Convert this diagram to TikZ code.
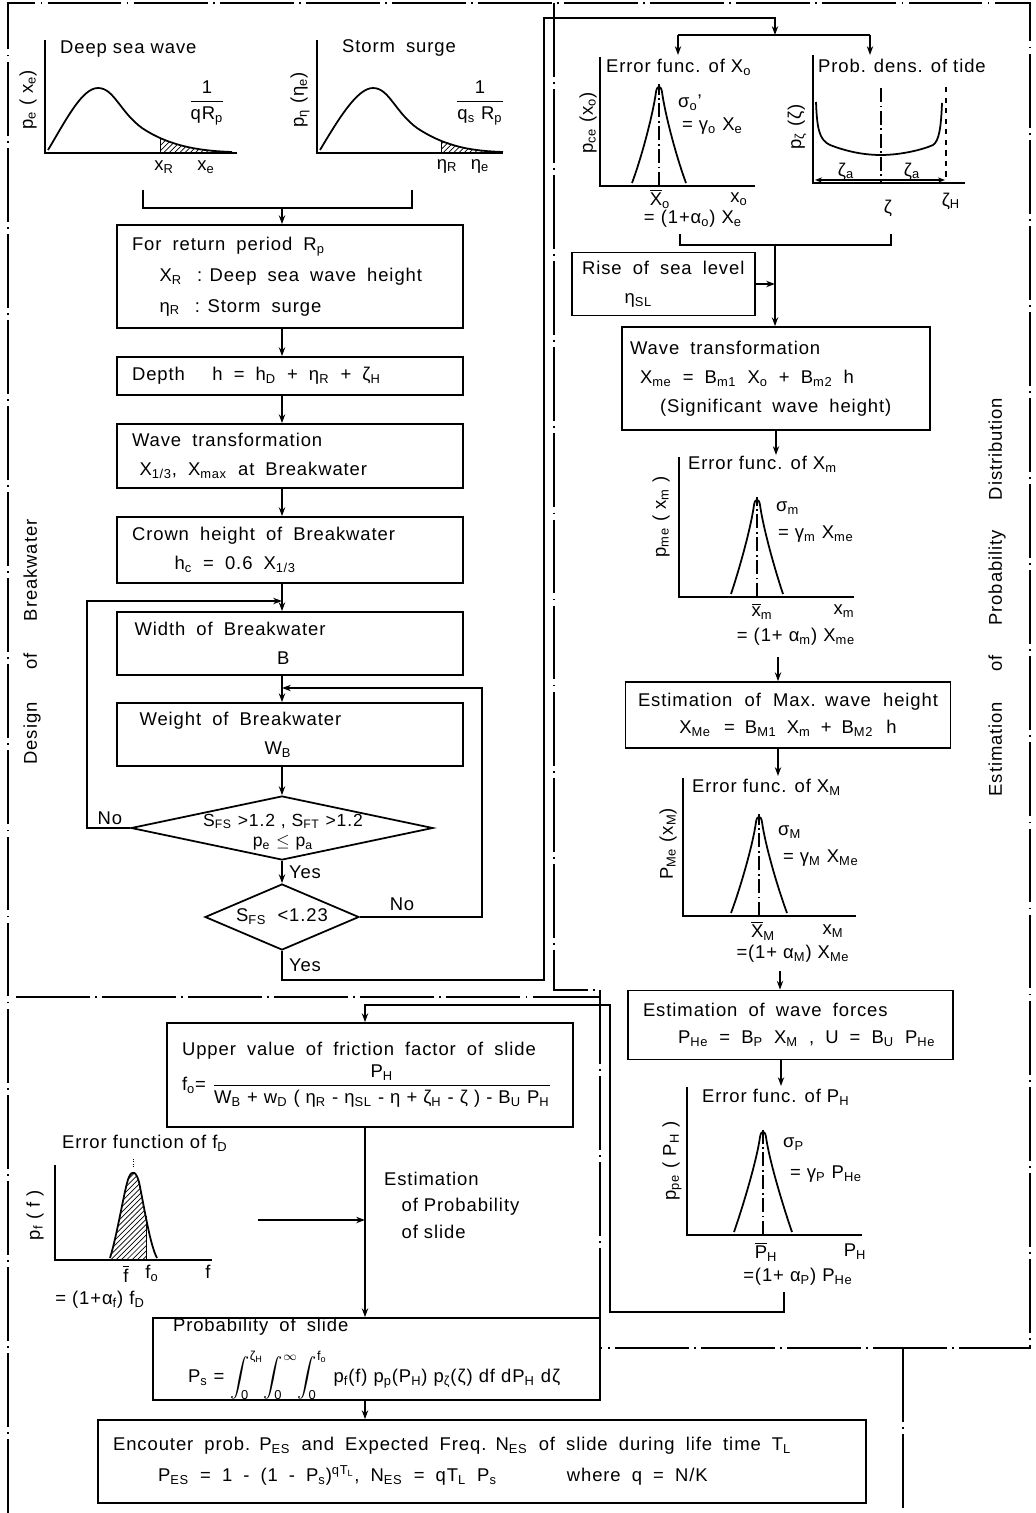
\documentclass[tikz,border=0pt]{standalone}
\usepackage{amsmath}
\usepackage{fontspec}
\setmainfont{Liberation Sans}[LetterSpace=5]
\usetikzlibrary{arrows.meta,positioning,shapes.geometric,patterns}

\newcommand{\sbx}[1]{\textsubscript{#1}}
\newcommand{\spx}[1]{\textsuperscript{#1}}
\newcommand{\ovl}[1]{$\overline{\text{#1}}$}
\newcommand{\widesp}{\spaceskip=0.6em plus 0.3em minus 0.2em\relax}
\newcommand{\normsp}{\spaceskip=0pt\relax}

\begin{document}
\begin{tikzpicture}[
  x=0.02cm, y=-0.02cm,
  font=\fontsize{10.5}{12.5}\selectfont,
  block/.style={rectangle, draw, line width=1pt, inner xsep=0.3cm,
                inner ysep=2pt, align=left, execute at begin node=\widesp},
  decision/.style={diamond, draw, line width=1pt, inner sep=0pt},
  frame/.style={line width=1pt, dash pattern=on 42pt off 3pt on 1pt off 3pt},
  arr/.style={-{Stealth[length=5pt,width=3.6pt]}, line width=0.9pt},
  tip/.style={-{Stealth[length=4pt,width=3pt]}, line width=0.6pt},
  flow/.style={line width=0.9pt},
  axis/.style={line width=1pt},
  curve/.style={line width=1pt},
  cline/.style={line width=0.6pt, dash pattern=on 8pt off 2pt on 1pt off 2pt},
  lab/.style={inner sep=1pt},
  ylab/.style={inner sep=1pt, rotate=90}
]
\useasboundingbox (0,0) rectangle (1035,1513);

% panel frames
\draw[frame] (8,1513) -- (8,3) -- (1030,3) -- (1030,1348) -- (600,1348);
\draw[frame] (554,3) -- (554,990) -- (600,990) -- (600,1348);
\draw[frame] (16,997) -- (600,997);
\draw[frame] (903,1348) -- (903,1513);

\node[ylab] (design) at (32,642) {Design\hspace{0.65cm}of\hspace{0.65cm}Breakwater};
\node[ylab] (estim)  at (997,597) {Estimation\hspace{0.6cm}of\hspace{0.6cm}Probability\hspace{0.6cm}Distribution};

% ---- design of breakwater ----
\draw[axis] (45,40) -- (45,153) -- (237,153);
\fill[pattern=north east lines] (160,139) .. controls (185,148) and (205,151) .. (230,152) -- (230,153) -- (160,153) -- cycle;
\draw[curve] (48,150) .. controls (66,120) and (82,88) .. (98,88) .. controls (114,88) and (120,112) .. (142,128) .. controls (172,148) and (205,151) .. (232,152);
\draw (160,139) -- (160,153);
\node[lab, anchor=west] (dswt)  at (58,49)  {Deep sea wave};
\node[ylab]             (dswy)  at (28,100) {p\sbx{e} ( x\sbx{e})};
\node[lab]              (dswxr) at (164,167) {x\sbx{R}};
\node[lab]              (dswxe) at (206,167) {x\sbx{e}};
\node[lab]              (dswfr) at (207,103) {$\dfrac{\text{1}}{\text{qR\sbx{p}}}$};

\draw[axis] (317,40) -- (317,153) -- (503,153);
\fill[pattern=north east lines] (441,140) .. controls (462,148) and (480,151) .. (500,152) -- (500,153) -- (441,153) -- cycle;
\draw[curve] (320,150) .. controls (338,120) and (357,88) .. (373,88) .. controls (389,88) and (395,112) .. (417,128) .. controls (447,148) and (475,151) .. (503,152);
\draw (441,140) -- (441,153);
\node[lab, anchor=west] (ssgt)  at (340,48)  {Storm \hspace{0.1cm}surge};
\node[ylab]             (ssgy)  at (300,100) {p\sbx{η} (η\sbx{e})};
\node[lab]              (ssgxr) at (447,166) {η\sbx{R}};
\node[lab]              (ssgxe) at (480,166) {η\sbx{e}};
\node[lab]              (ssgfr) at (480,103) {$\dfrac{\text{1}}{\text{q\sbx{s} R\sbx{p}}}$};

\draw[flow] (143,190) -- (143,208) -- (412,208) -- (412,190);
\coordinate (col) at (282,208);

\node[block, text width=6.32cm, minimum height=2.06cm] (ret) at (290,276.5)
  {For return period R\sbx{p}\\[5pt]
   \hspace*{0.55cm}X\sbx{R}\hspace{0.3cm}:\hspace{0.15cm}Deep sea wave height\\[5pt]
   \hspace*{0.55cm}η\sbx{R}\hspace{0.3cm}:\hspace{0.15cm}Storm surge};
\node[block, text width=6.32cm, minimum height=0.76cm] (depth) at (290,376)
  {Depth\hspace{0.55cm}h = h\sbx{D} + η\sbx{R} + ζ\sbx{H}};
\node[block, text width=6.32cm, minimum height=1.28cm] (wtl) at (290,456)
  {Wave transformation\\[4pt]
   \hspace*{0.15cm}X\sbx{1/3}, X\sbx{max} at Breakwater};
\node[block, text width=6.32cm, minimum height=1.32cm] (crown) at (290,550)
  {Crown height of Breakwater\\[4pt]
   \hspace*{0.85cm}h\sbx{c} = 0.6 X\sbx{1/3}};
\node[block, text width=6.32cm, minimum height=1.26cm] (width) at (290,643.5)
  {\hspace*{0.05cm}Width of Breakwater\\[4pt]
   \hspace*{2.9cm}B};
\node[block, text width=6.32cm, minimum height=1.26cm] (weight) at (290,734.5)
  {\hspace*{0.15cm}Weight of Breakwater\\[4pt]
   \hspace*{2.65cm}W\sbx{B}};

\node[decision, minimum width=6.04cm, minimum height=1.28cm] (chk1) at (282,828) {};
\node[lab, align=center, font=\fontsize{10}{12}\selectfont] (chk1t) at (283,832)
  {S\sbx{FS} >1.2 , S\sbx{FT} >1.2\\[-0.5pt] p\sbx{e} $\le$ p\sbx{a}};
\node[decision, minimum width=3.08cm, minimum height=1.32cm] (chk2) at (282,917) {};
\node[lab] (chk2t) at (282,917) {S\sbx{FS} \hspace{0.1cm}<1.23};

\node[lab] (no1)  at (110,818) {No};
\node[lab] (yes1) at (305,872) {Yes};
\node[lab] (no2)  at (402,904) {No};
\node[lab] (yes2) at (305,965) {Yes};

\coordinate (nol) at (87,601);
\coordinate (j1)  at (282,601);
\coordinate (nor) at (482,688);
\coordinate (j2)  at (282,688);
\coordinate (ys2) at (544,980);
\coordinate (ys3) at (544,18);
\coordinate (spl) at (775,35);
\coordinate (sl)  at (678,35);
\coordinate (sr)  at (870,35);
\coordinate (cxo) at (678,55);
\coordinate (ctd) at (870,55);

\draw[arr] (col) -- (col |- ret.north);
\draw[arr] (ret.south -| col) -- (depth.north -| col);
\draw[arr] (depth.south -| col) -- (wtl.north -| col);
\draw[arr] (wtl.south -| col) -- (crown.north -| col);
\draw[arr] (crown.south -| col) -- (width.north -| col);
\draw[arr] (width.south -| col) -- (weight.north -| col);
\draw[arr] (weight.south -| col) -- (chk1.north);
\draw[arr] (chk1.south) -- (chk2.north);
\draw[arr] (chk1.west) -| (nol) -- (j1);
\draw[arr] (chk2.east) -| (nor) -- (j2);
\draw[arr] (chk2.south) |- (ys2) -- (ys3) -| (spl);
\draw[flow] (sl) -- (sr);
\draw[arr] (sl) -- (cxo);
\draw[arr] (sr) -- (ctd);

% ---- probability distributions ----
\draw[axis] (600,57) -- (600,186) -- (755,186);
\begin{scope}[shift={(659,186)}]
  \draw[curve] (-27,-3) .. controls (-17,-30) and (-6,-72) .. (-3,-94)
     .. controls (-2,-101) and (2,-101) .. (3,-94)
     .. controls (6,-72) and (17,-30) .. (27,-3);
  \draw[cline] (0,0) -- (0,-102);
\end{scope}
\node[lab, anchor=west] (xot)  at (604,67)  {Error func. of X\sbx{o}};
\node[ylab]             (xoy)  at (588,123) {p\sbx{ce} (x\sbx{o})};
\node[lab, anchor=west] (xos)  at (676,103) {σ\sbx{o}'};
\node[lab, anchor=west] (xog)  at (680,126) {= γ\sbx{o} X\sbx{e}};
\node[lab]              (xob)  at (660,199) {\ovl{X}\sbx{o}};
\node[lab]              (xox)  at (739,199) {x\sbx{o}};
\node[lab]              (xoa)  at (693,219) {= (1+α\sbx{o}) X\sbx{e}};

\draw[axis] (813,55) -- (813,183) -- (965,183);
\draw[curve] (816,102) .. controls (817,128) and (819,140) .. (830,145)
   .. controls (848,152) and (865,155) .. (881,155)
   .. controls (900,155) and (922,150) .. (933,145)
   .. controls (939,141) and (941,128) .. (942,103);
\draw[cline] (881,88) -- (881,183);
\draw[line width=0.6pt, dashed] (946,87) -- (946,183);
\draw[tip] (881,180) -- (815,180);
\draw[tip] (881,180) -- (945,180);
\node[lab, anchor=west] (tdt) at (816,66)  {Prob. dens. of tide};
\node[ylab]             (tdy) at (797,127) {p\sbx{ζ} (ζ)};
\node[lab]              (tda) at (846,171) {ζ\sbx{a}};
\node[lab]              (tdb) at (912,171) {ζ\sbx{a}};
\node[lab]              (tdz) at (888,208) {ζ};
\node[lab]              (tdh) at (951,201) {ζ\sbx{H}};

\draw[flow] (680,234) -- (680,245) -- (891,245) -- (891,234);
\coordinate (col2) at (775,245);

\node[block, inner xsep=0.2cm, text width=3.26cm, minimum height=1.26cm] (rise) at (663.5,284)
  {Rise of sea level\\[4pt]
   \hspace*{0.85cm}η\sbx{SL}};
\node[block, inner xsep=0.16cm, text width=5.84cm, minimum height=2.06cm] (wtr) at (776,378.5)
  {Wave transformation\\[4pt]
   \hspace*{0.2cm}X\sbx{me} = B\sbx{m1} X\sbx{o} + B\sbx{m2} h\\[4pt]
   \hspace*{0.6cm}(Significant wave height)};

\draw[arr] (col2) -- (col2 |- wtr.north);
\draw[arr] (rise.east) -- (rise.east -| col2);

\coordinate (cxm) at (776,455);
\draw[arr] (wtr.south -| cxm) -- (cxm);

\draw[axis] (679,457) -- (679,597) -- (854,597);
\begin{scope}[shift={(757,597)}]
  \draw[curve] (-26,-3) .. controls (-17,-30) and (-6,-70) .. (-3,-92)
     .. controls (-2,-99) and (2,-99) .. (3,-92)
     .. controls (6,-70) and (17,-30) .. (26,-3);
  \draw[cline] (0,0) -- (0,-100);
\end{scope}
\node[lab, anchor=west] (xmt) at (686,464) {Error func. of X\sbx{m}};
\node[ylab]             (xmy) at (661,517) {p\sbx{me} ( x\sbx{m} )};
\node[lab, anchor=west] (xms) at (774,508) {σ\sbx{m}};
\node[lab, anchor=west] (xmg) at (776,534) {= γ\sbx{m} X\sbx{me}};
\node[lab]              (xmb) at (762,611) {\ovl{x}\sbx{m}};
\node[lab]              (xmx) at (844,611) {x\sbx{m}};
\node[lab]              (xma) at (796,637) {= (1+ α\sbx{m}) X\sbx{me}};

\coordinate (cm2) at (778,657);
\node[block, align=center, inner xsep=0.1cm, text width=6.3cm, minimum height=1.32cm] (maxw) at (788,715)
  {Estimation of Max. wave height\\[3pt]
   {\normsp X\sbx{Me} \,= B\sbx{M1} X\sbx{m} + B\sbx{M2} \,h}};
\draw[arr] (cm2) -- (cm2 |- maxw.north);

\coordinate (cxmm) at (778,776);
\draw[arr] (maxw.south -| cxmm) -- (cxmm);

\draw[axis] (683,778) -- (683,916) -- (856,916);
\begin{scope}[shift={(759,916)}]
  \draw[curve] (-28,-3) .. controls (-18,-30) and (-6,-72) .. (-3,-94)
     .. controls (-2,-101) and (2,-101) .. (3,-94)
     .. controls (6,-72) and (18,-30) .. (28,-3);
  \draw[cline] (0,0) -- (0,-102);
\end{scope}
\node[lab, anchor=west] (xMt) at (690,787) {Error func. of X\sbx{M}};
\node[ylab]             (xMy) at (668,844) {P\sbx{Me} (x\sbx{M})};
\node[lab, anchor=west] (xMs) at (776,832) {σ\sbx{M}};
\node[lab, anchor=west] (xMg) at (781,858) {= γ\sbx{M} X\sbx{Me}};
\node[lab]              (xMb) at (763,931) {\ovl{X}\sbx{M}};
\node[lab]              (xMx) at (833,931) {x\sbx{M}};
\node[lab]              (xMa) at (793,954) {=(1+ α\sbx{M}) X\sbx{Me}};

\coordinate (cf) at (780,971);
\node[block, text width=5.9cm, minimum height=1.38cm] (force) at (790.5,1025)
  {Estimation of wave forces\\[3pt]
   \hspace*{0.7cm}P\sbx{He} = B\sbx{P} X\sbx{M} , U = B\sbx{U} P\sbx{He}};
\draw[arr] (cf) -- (cf |- force.north);

\coordinate (cph) at (781,1086);
\draw[arr] (force.south -| cph) -- (cph);

\draw[axis] (687,1087) -- (687,1235) -- (862,1235);
\begin{scope}[shift={(763,1235)}]
  \draw[curve] (-29,-3) .. controls (-19,-32) and (-6,-76) .. (-3,-98)
     .. controls (-2,-105) and (2,-105) .. (3,-98)
     .. controls (6,-76) and (19,-32) .. (29,-3);
  \draw[cline] (0,0) -- (0,-108);
\end{scope}
\node[lab, anchor=west] (pht) at (700,1097) {Error func. of P\sbx{H}};
\node[ylab]             (phy) at (672,1161) {p\sbx{pe} ( P\sbx{H} )};
\node[lab, anchor=west] (phs) at (781,1144) {σ\sbx{P}};
\node[lab, anchor=west] (phg) at (788,1174) {= γ\sbx{P} P\sbx{He}};
\node[lab]              (phb) at (766,1252) {\ovl{P}\sbx{H}};
\node[lab]              (phx) at (855,1252) {P\sbx{H}};
\node[lab]              (pha) at (798,1277) {=(1+ α\sbx{P}) P\sbx{He}};

% ---- probability of slide ----
\coordinate (ph1) at (784,1292);
\coordinate (ph2) at (784,1312);
\coordinate (ph3) at (610,1312);
\coordinate (ph4) at (610,1005);
\coordinate (ph5) at (365,1005);

\node[block, text width=7.52cm, minimum height=2.08cm] (fric) at (370,1075)
  {Upper value of friction factor of slide\\[2pt]
   {\normsp f\sbx{o}= $\dfrac{\text{P\sbx{H}}}{\text{W\sbx{B} + w\sbx{D} ( η\sbx{R} - η\sbx{SL} - η + ζ\sbx{H} - ζ ) - B\sbx{U} P\sbx{H}}}$}};
\draw[arr] (ph1) -- (ph2) -- (ph3) -- (ph4) -- (ph5) -- (ph5 |- fric.north);

\draw[axis] (55,1165) -- (55,1260) -- (212,1260);
\fill[pattern=north east lines] (110,1258) .. controls (118,1232) and (125,1185) .. (129,1177)
   .. controls (132,1170) and (136,1171) .. (139,1182) -- (146,1216) -- (146,1260) -- (110,1260) -- cycle;
\draw[curve] (110,1258) .. controls (118,1232) and (125,1185) .. (129,1177)
   .. controls (132,1170) and (136,1171) .. (139,1182)
   .. controls (144,1206) and (150,1245) .. (157,1258);
\draw (146,1216) -- (146,1260);
\draw[densely dotted] (133,1159) -- (133,1167);
\node[lab, anchor=west] (ft)  at (60,1143) {Error function of f\sbx{D}};
\node[ylab]             (fy)  at (35,1215) {p\sbx{f} ( f )};
\node[lab]              (fb)  at (126,1274) {\ovl{f}};
\node[lab]              (fo)  at (152,1273) {f\sbx{o}};
\node[lab]              (fx)  at (208,1272) {f};
\node[lab]              (fa)  at (100,1300) {= (1+α\sbx{f}) f\sbx{D}};

\node[lab, anchor=north west, align=left] (estsl) at (382,1170)
  {Estimation\\[2.5pt]
   \hspace*{0.35cm}of Probability\\[2.5pt]
   \hspace*{0.35cm}of slide};

\coordinate (fc) at (258,1220);
\coordinate (fj) at (365,1220);
\draw[arr] (fc) -- (fj);

\node[block, inner ysep=0pt, text width=8.34cm, minimum height=1.64cm] (prob) at (376.5,1359)
  {\hspace*{0.1cm}Probability of slide\\[8pt]
   {\normsp\hspace*{0.4cm}P\sbx{s} = $\displaystyle\int_{\text{0}}^{\text{ζ\sbx{H}}}\!\int_{\text{0}}^{\infty}\!\int_{\text{0}}^{\text{f\sbx{o}}}$ p\sbx{f}(f) p\sbx{p}(P\sbx{H}) p\sbx{ζ}(ζ) df dP\sbx{H} dζ}};
\node[block, text width=14.76cm, minimum height=1.66cm] (enc) at (482,1461.5)
  {Encouter prob. P\sbx{ES} and Expected Freq. N\sbx{ES} of slide during life time T\sbx{L}\\[5pt]
   \hspace*{0.9cm}P\sbx{ES} = 1 - (1 - P\sbx{s})\spx{qT\sbx{L}}, N\sbx{ES} = qT\sbx{L} P\sbx{s}\hspace{1.4cm}where q = N/K};

\draw[arr] (fric.south -| ph5) -- (prob.north -| ph5);
\draw[arr] (prob.south -| ph5) -- (enc.north -| ph5);

\end{tikzpicture}
\end{document}
